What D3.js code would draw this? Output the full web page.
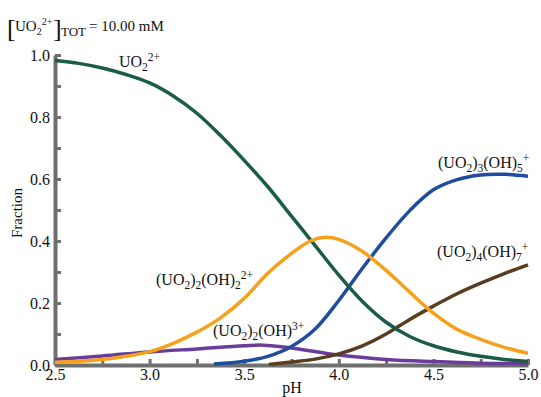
<!DOCTYPE html>
<html>
<head>
<meta charset="utf-8">
<script src="https://cdn.jsdelivr.net/npm/d3@7"></script>
<style>
  body { margin: 0; background: #fff; }
  svg text { font-family: "Liberation Serif", "DejaVu Serif", serif; fill: #111; }
  .axis .domain { stroke: #6f6f6f; stroke-width: 4; }
  .axis .tick line { stroke: #6f6f6f; stroke-width: 3; }
  .axis .tick text { font-size: 16px; font-family: "Liberation Serif", serif; fill: #111; }
</style>
</head>
<body>
<div id="chart"></div>
<script>
var w = 541;
var h = 397;

// species fractions: [pH, fraction]
var uo2 = [[2.5,0.982],[2.625,0.973],[2.75,0.958],[2.875,0.937],[3.0,0.91],[3.125,0.868],[3.25,0.812],
           [3.375,0.74],[3.5,0.66],[3.625,0.575],[3.75,0.48],[3.875,0.385],[4.0,0.29],[4.125,0.205],
           [4.25,0.138],[4.375,0.092],[4.5,0.062],[4.625,0.042],[4.75,0.028],[4.875,0.018],[5.0,0.011]];
var u2oh2 = [[2.5,0.009],[2.625,0.012],[2.75,0.018],[2.875,0.028],[3.0,0.043],[3.125,0.07],[3.25,0.106],
             [3.375,0.152],[3.5,0.215],[3.625,0.296],[3.75,0.36],[3.85,0.4],[3.93,0.412],[4.0,0.405],
             [4.125,0.366],[4.25,0.305],[4.375,0.235],[4.5,0.167],[4.625,0.115],[4.75,0.083],
             [4.875,0.057],[5.0,0.038]];
var u2oh = [[2.5,0.018],[2.75,0.029],[3.0,0.042],[3.25,0.052],[3.5,0.062],[3.6,0.064],[3.75,0.055],
            [4.0,0.032],[4.25,0.018],[4.5,0.011],[4.75,0.006],[5.0,0.004]];
var u3oh5 = [[3.34,0.003],[3.5,0.012],[3.625,0.028],[3.75,0.06],[3.875,0.116],[4.0,0.208],[4.125,0.312],
             [4.25,0.41],[4.375,0.498],[4.5,0.565],[4.625,0.598],[4.75,0.613],[4.875,0.615],[5.0,0.609]];
var u4oh7 = [[3.63,0.002],[3.75,0.01],[3.875,0.019],[4.0,0.036],[4.125,0.062],[4.25,0.1],[4.375,0.147],
             [4.5,0.19],[4.625,0.23],[4.75,0.264],[4.875,0.295],[5.0,0.323]];

var xTicks = [2.5,2.75,3.0,3.25,3.5,3.75,4.0,4.25,4.5,4.75,5.0];
var yTicks = [0,0.1,0.2,0.3,0.4,0.5,0.6,0.7,0.8,0.9,1.0];

var svg = d3.select('#chart')
            .append('svg')
            .attr('width', w)
            .attr('height', h);

var x = d3.scaleLinear().domain([2.5, 5.0]).range([55, 528]);
var y = d3.scaleLinear().domain([0, 1]).range([365, 55]);

var xAxis = d3.axisBottom(x)
              .tickValues(xTicks)
              .tickSizeInner(-6)
              .tickSizeOuter(0)
              .tickPadding(4)
              .tickFormat(function(d){ return (Math.round(d*100) % 50 == 0) ? d.toFixed(1) : ''; });
var yAxis = d3.axisLeft(y)
              .tickValues(yTicks)
              .tickSizeInner(-6)
              .tickSizeOuter(0)
              .tickPadding(5)
              .tickFormat(function(d){ return (Math.round(d*10) % 2 == 0) ? d.toFixed(1) : ''; });

svg.append('g').attr('class','axis').attr('transform','translate(0,365)').call(xAxis);
svg.append('g').attr('class','axis').attr('transform','translate(55,0)').call(yAxis);

var line = d3.line()
             .x(function(d){ return x(d[0]); })
             .y(function(d){ return y(d[1]); })
             .curve(d3.curveCatmullRom.alpha(0.5));

var series = [
    {data: u2oh,  color: '#6b3d9a'},
    {data: u4oh7, color: '#5a3d1e'},
    {data: u3oh5, color: '#1f4c9e'},
    {data: uo2,   color: '#1b5c46'},
    {data: u2oh2, color: '#f5a11c'}
];

svg.append('g').selectAll('path')
   .data(series)
   .enter()
   .append('path')
   .attr('d', function(d){ return line(d.data); })
   .style('fill', 'none')
   .style('stroke', function(d){ return d.color; })
   .style('stroke-width', 3.5);

// labels with sub/superscripts: pieces of [text, shift] (0 normal, 1 sub, -1 sup)
function label(px, py, parts, big, small){
    big = big || 16;
    small = small || 11.5;
    var t = svg.append('text').attr('x', px).attr('y', py).style('font-size', big + 'px');
    var shift = 0;
    parts.forEach(function(p){
        var dy = 0;
        if (p[1] == 1) dy = 4 - shift;
        else if (p[1] == -1) dy = -6 - shift;
        else dy = -shift;
        shift += dy;
        t.append('tspan')
         .attr('dy', dy)
         .style('font-size', (p[1] == 0 ? big : small) + 'px')
         .text(p[0]);
    });
    return t;
}

label(119, 67, [['UO',0],['2',1],['2+',-1]]);
label(438, 168, [['(UO',0],['2',1],[')',0],['3',1],['(OH)',0],['5',1],['+',-1]]);
label(437, 257, [['(UO',0],['2',1],[')',0],['4',1],['(OH)',0],['7',1],['+',-1]]);
label(156, 285, [['(UO',0],['2',1],[')',0],['2',1],['(OH)',0],['2',1],['2+',-1]]);
label(213, 336, [['(UO',0],['2',1],[')',0],['2',1],['(OH)',0],['3+',-1]]);

// title with tall brackets
svg.append('text').attr('x', 7).attr('y', 37).style('font-size', '26px').text('[');
label(15, 31, [['UO',0],['2',1],['2+',-1]], 15, 10);
svg.append('text').attr('x', 53).attr('y', 37).style('font-size', '26px').text(']');
svg.append('text').attr('x', 61).attr('y', 36).style('font-size', '13px').text('TOT');
svg.append('text').attr('x', 89).attr('y', 31).style('font-size', '15px').text('= 10.00 mM');

// axis titles
svg.append('text')
   .attr('x', 292).attr('y', 393)
   .attr('text-anchor', 'middle')
   .style('font-size', '16px')
   .text('pH');
svg.append('text')
   .attr('transform', 'translate(22,213) rotate(-90)')
   .attr('text-anchor', 'middle')
   .style('font-size', '15px')
   .text('Fraction');
</script>
</body>
</html>
